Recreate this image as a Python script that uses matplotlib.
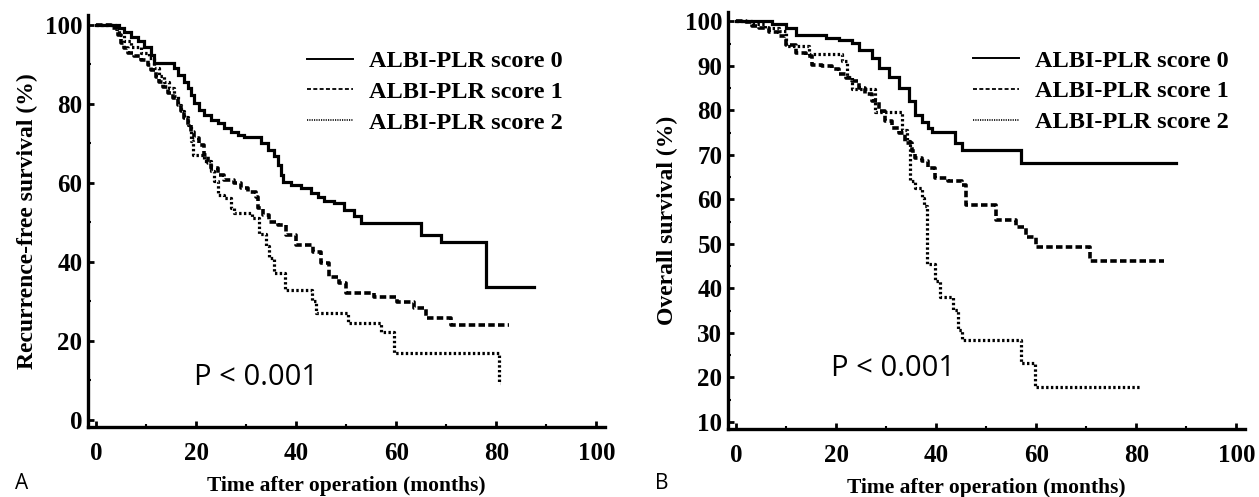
import matplotlib
matplotlib.use("Agg")
import matplotlib.pyplot as plt
from matplotlib.lines import Line2D
from matplotlib.ticker import MultipleLocator

# ---- data (months, % survival) ----
labels = ["ALBI-PLR score 0", "ALBI-PLR score 1", "ALBI-PLR score 2"]

# Panel A: recurrence-free survival
a_t0 = [0, 4.6, 5.6, 6.9, 8.3, 9.6, 10.9, 11.6, 15.6, 16.3, 17.6, 18.3, 18.9, 19.6, 20.6,
        21.6, 22.9, 24.3, 25.6, 26.9, 28.3, 29.6, 32.9, 34.3, 35.6, 36.3, 36.9, 37.3, 38.9,
        40.9, 42.9, 44.3, 45.6, 47.6, 49.5, 51.5, 53.0, 65.0, 69.0, 78.0]
a_s0 = [100, 99.2, 98.3, 97.0, 95.8, 94.5, 92.4, 90.3, 89.0, 87.3, 85.6, 84.0, 82.3, 80.2, 78.5,
        77.2, 75.9, 75.1, 73.8, 73.0, 72.2, 71.5, 70.0, 68.4, 66.7, 64.6, 62.0, 60.3, 59.5,
        58.7, 57.5, 56.5, 55.5, 54.9, 53.2, 51.5, 49.8, 46.8, 45.0, 33.7]
a_t1 = [0, 2.9, 4.3, 4.9, 5.6, 6.3, 7.6, 8.9, 10.3, 10.9, 11.9, 12.6, 13.3, 14.3, 15.3, 16.3,
        16.9, 17.6, 18.3, 18.9, 19.6, 20.6, 21.6, 22.3, 22.9, 24.3, 25.6, 27.6, 28.9, 30.3,
        31.9, 32.3, 33.3, 34.6, 36.3, 37.9, 39.9, 43.3, 45.0, 46.6, 48.6, 50.0, 55.6, 60.2,
        63.6, 66.0, 71.0]
a_s1 = [100, 99.2, 97.5, 95.4, 94.1, 92.8, 92.0, 91.1, 89.9, 88.6, 86.9, 85.6, 84.4, 82.7, 81.4,
        79.7, 78.1, 76.4, 74.7, 73.0, 71.3, 69.6, 67.1, 65.0, 63.7, 62.0, 60.8, 59.9, 58.7,
        57.8, 56.5, 53.6, 51.9, 50.2, 49.4, 46.8, 44.3, 42.5, 39.7, 36.2, 34.7, 32.2, 31.1,
        29.9, 28.4, 25.8, 24.0]
a_t2 = [0, 3.9, 4.6, 5.6, 7.0, 9.0, 10.5, 11.5, 12.5, 13.5, 14.5, 15.6, 16.3, 16.9, 17.6, 18.3,
        18.9, 19.3, 21.6, 22.9, 23.6, 24.3, 25.6, 26.9, 27.6, 31.2, 32.6, 33.9, 34.6, 35.6,
        37.8, 43.2, 44.0, 50.4, 57.0, 59.6, 80.6]
a_s2 = [100, 99.0, 97.5, 96.0, 94.5, 93.0, 91.5, 89.0, 87.0, 85.5, 84.0, 82.0, 79.7, 78.1, 76.8,
        74.7, 70.5, 67.1, 65.5, 63.0, 60.5, 57.0, 56.1, 53.6, 52.4, 51.0, 47.0, 44.0, 41.0,
        37.2, 33.0, 30.0, 27.0, 24.6, 22.3, 17.0, 9.4]
a_end = [87.6, 82.6, 80.8]

# Panel B: overall survival
b_t0 = [0, 7.3, 9.9, 11.9, 17.9, 20.5, 23.2, 24.5, 27.2, 28.5, 30.5, 32.5, 34.5, 35.8, 37.1,
        38.4, 39.1, 43.7, 45.1, 57.0]
b_s0 = [100, 99.4, 98.6, 97.0, 96.2, 95.8, 95.1, 93.6, 91.7, 89.5, 87.6, 85.0, 82.0, 79.0, 77.5,
        76.0, 75.2, 72.6, 71.1, 68.2]
b_t1 = [0, 2.0, 3.3, 4.6, 6.6, 8.6, 9.9, 11.9, 13.9, 15.2, 17.2, 19.2, 20.5, 21.9, 23.2, 24.5,
        25.8, 27.2, 28.5, 29.8, 31.1, 32.5, 33.8, 35.1, 35.8, 37.1, 38.4, 39.8, 42.4, 45.1,
        45.9, 52.0, 56.0, 58.0, 60.0, 70.8]
b_s1 = [100, 99.8, 99.0, 98.6, 97.5, 96.7, 94.8, 92.9, 92.2, 90.3, 89.9, 89.2, 88.1, 87.3, 86.6,
        85.1, 83.6, 82.1, 79.8, 77.6, 76.1, 75.0, 72.7, 70.8, 69.3, 68.6, 67.1, 64.8, 64.1,
        63.3, 58.8, 55.4, 53.8, 51.6, 49.3, 46.2]
b_t2 = [0, 3.3, 5.9, 8.6, 9.9, 14.6, 21.2, 22.2, 23.2, 27.8, 33.1, 34.1, 34.8, 35.8, 37.1,
        37.6, 38.2, 39.8, 40.8, 43.4, 44.4, 45.2, 57.0, 59.8]
b_s2 = [100, 99.4, 98.6, 97.9, 94.5, 92.6, 91.2, 87.4, 84.7, 79.6, 75.5, 73.1, 64.1, 62.6, 60.4,
        58.5, 45.4, 41.7, 38.1, 35.2, 30.7, 28.4, 23.3, 17.9]
b_end = [87.9, 85.5, 81.0]

SERIF = "Liberation Serif"
curve_styles = [dict(lw=2.3, ls="-"),
                dict(lw=2.6, dashes=(1.8, 0.9)),
                dict(lw=2.3, dashes=(0.75, 0.75))]
legend_styles = [dict(lw=1.4, ls="-"),
                 dict(lw=1.3, dashes=(2.2, 1.3)),
                 dict(lw=1.2, dashes=(0.7, 0.7))]


def draw_panel(ax, curves, ends, ylim, ymajor, yminor, ylabel, leg_xy, p_xy):
    for (t, s), end, st in zip(curves, ends, curve_styles):
        ax.step(list(t) + [end], list(s) + [s[-1]], where="post", color="black",
                solid_joinstyle="miter", **st)
    ax.set_xlim(-1.6, 101.7)
    ax.set_ylim(*ylim)
    ax.xaxis.set_major_locator(MultipleLocator(20))
    ax.xaxis.set_minor_locator(MultipleLocator(10))
    ax.yaxis.set_major_locator(MultipleLocator(ymajor))
    ax.yaxis.set_minor_locator(MultipleLocator(yminor))
    for side in ["top", "right"]:
        ax.spines[side].set_visible(False)
    for side in ["left", "bottom"]:
        ax.spines[side].set_linewidth(2.4)
    ax.tick_params(which="major", direction="in", length=4.5, width=2.0)
    ax.tick_params(which="minor", direction="in", length=2.5, width=1.5)
    ax.tick_params(axis="x", which="major", pad=11)
    ax.tick_params(axis="y", which="major", pad=4)
    for lab in ax.get_xticklabels() + ax.get_yticklabels():
        lab.set_fontfamily(SERIF)
        lab.set_fontweight("bold")
        lab.set_fontsize(18)
    ax.set_xlabel("Time after operation (months)", fontfamily=SERIF, fontweight="bold",
                  fontsize=15.5, labelpad=8)
    ax.set_ylabel(ylabel, fontfamily=SERIF, fontweight="bold", fontsize=17, labelpad=5)
    handles = [Line2D([], [], color="black", **st) for st in legend_styles]
    ax.legend(handles, labels, loc="upper left", bbox_to_anchor=leg_xy, frameon=False,
              prop=dict(family=SERIF, weight="bold", size=17.5), handlelength=1.9,
              handletextpad=0.65, labelspacing=0.36, borderpad=0, borderaxespad=0)
    ax.text(p_xy[0], p_xy[1], "P < 0.001", transform=ax.transAxes, fontfamily="Open Sans",
            fontsize=21, ha="left", va="center")


fig = plt.figure(figsize=(12.59, 4.97), dpi=100)
axA = fig.add_axes([0.0699, 0.1408, 0.4106, 0.829])
axB = fig.add_axes([0.5782, 0.1368, 0.4106, 0.839])

draw_panel(axA, [(a_t0, a_s0), (a_t1, a_s1), (a_t2, a_s2)], a_end, (-1.8, 102.5), 20, 10,
           "Recurrence-free survival (%)", (0.424, 0.915), (0.205, 0.12))
draw_panel(axB, [(b_t0, b_s0), (b_t1, b_s1), (b_t2, b_s2)], b_end, (8.4, 102.1), 10, 5,
           "Overall survival (%)", (0.474, 0.91), (0.20, 0.145))

fig.text(0.012, 0.028, "A", fontfamily="Open Sans", fontsize=15, ha="left", va="center")
fig.text(0.520, 0.028, "B", fontfamily="Open Sans", fontsize=15, ha="left", va="center")

fig.savefig("out.png", dpi=100, facecolor="white")
plt.close(fig)
print("Saved: out.png")
